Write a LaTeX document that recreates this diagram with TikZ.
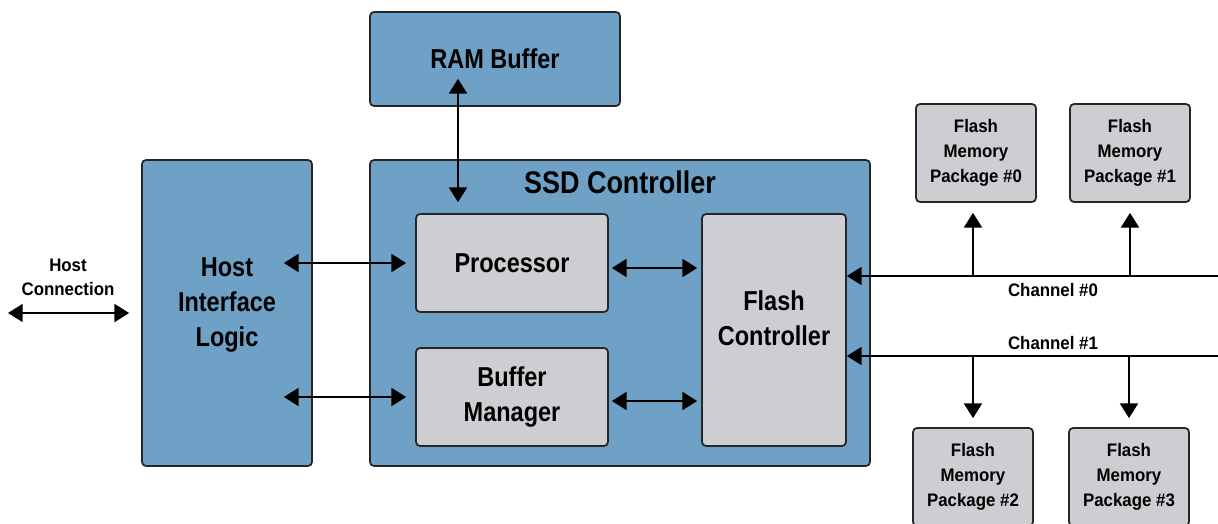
\documentclass[tikz,border=0pt]{standalone}
\usepackage{fontspec}
\setmainfont{Liberation Sans}
\newfontfamily\narrowfont{Liberation Sans}[FakeStretch=0.86]
\newfontfamily\smallfont{Liberation Sans}[FakeStretch=0.93]
\usetikzlibrary{arrows.meta}
\definecolor{ssdblue}{RGB}{110,161,197}
\definecolor{chipgray}{RGB}{205,206,209}
\tikzstyle{blueblock} = [rectangle, rounded corners=3pt, draw=black!85, line width=1.3pt, fill=ssdblue, text centered, align=center, font=\narrowfont\fontsize{20.5}{26}\selectfont\bfseries]
\tikzstyle{grayblock} = [blueblock, fill=chipgray]
\tikzstyle{flashchip} = [grayblock, minimum width=90pt, minimum height=73.5pt, font=\smallfont\fontsize{13.6}{18.75}\selectfont\bfseries]
\tikzstyle{bigtext} = [align=center, font=\narrowfont\fontsize{20.5}{26}\selectfont\bfseries]
\tikzstyle{smalltext} = [align=center, font=\smallfont\fontsize{13.6}{18}\selectfont\bfseries]
\tikzstyle{arrow} = [line width=1.2pt, -{Triangle[length=11pt,width=13.5pt]}]
\tikzstyle{dblarrow} = [line width=1.2pt, {Triangle[length=11pt,width=13.5pt]}-{Triangle[length=11pt,width=13.5pt]}]

\begin{document}
\begin{tikzpicture}[x=0.75pt, y=-0.75pt]
    \useasboundingbox (0,0) rectangle (1218,524);
    \node (RAMBuffer) [blueblock, minimum width=187.5pt, minimum height=70.5pt] at (495,59) {RAM Buffer};
    \node (HostLogic) [blueblock, minimum width=127.5pt, minimum height=229.5pt] at (227,313) {};
    \node (HostLogicText) [bigtext] at ([yshift=6pt]HostLogic.center) {Host\\Interface\\Logic};
    \node (SSDController) [blueblock, minimum width=375pt, minimum height=229.5pt] at (620,313) {};
    \node (SSDTitle) [font=\narrowfont\fontsize{23.5}{28}\selectfont\bfseries] at ([yshift=-17.25pt]SSDController.north) {SSD Controller};
    \node (Processor) [grayblock, minimum width=144pt, minimum height=73.5pt] at (512,263) {Processor};
    \node (BufferManager) [grayblock, minimum width=144pt, minimum height=73.5pt] at (512,397) {Buffer\\Manager};
    \node (FlashController) [grayblock, minimum width=108pt, minimum height=174pt] at (774,330) {};
    \node (FlashControllerText) [bigtext] at ([yshift=9pt]FlashController.center) {Flash\\Controller};
    \node (FlashPkg0) [flashchip] at (976,153) {Flash\\Memory\\Package \#0};
    \node (FlashPkg1) [flashchip] at (1130,153) {Flash\\Memory\\Package \#1};
    \node (FlashPkg2) [flashchip] at (973,477) {Flash\\Memory\\Package \#2};
    \node (FlashPkg3) [flashchip] at (1129,477) {Flash\\Memory\\Package \#3};
    \coordinate (HostEnd) at (8,313);
    \coordinate (Channel0) at (1218,276);
    \coordinate (Channel1) at (1218,356);
    \node (HostConnLabel) [smalltext] at (68,277) {Host\\Connection};
    \node (Channel0Label) [smalltext] at (1053,290) {Channel \#0};
    \node (Channel1Label) [smalltext] at (1053,343) {Channel \#1};
    \draw [dblarrow, shorten >=9pt] (HostEnd) -- (HostLogic.west |- HostEnd);
    \draw [dblarrow, shorten <=-21.75pt, shorten >=6.75pt] (HostLogic.east |- Processor.west) -- (Processor.west);
    \draw [dblarrow, shorten <=-21.75pt, shorten >=6.75pt] (HostLogic.east |- BufferManager.west) -- (BufferManager.west);
    \draw [dblarrow, shorten <=2.25pt, shorten >=3pt] ([yshift=-3.75pt]Processor.east) -- ([yshift=-3.75pt]FlashController.west |- Processor.east);
    \draw [dblarrow, shorten <=2.25pt, shorten >=3pt] ([yshift=-3pt]BufferManager.east) -- ([yshift=-3pt]FlashController.west |- BufferManager.east);
    \draw [dblarrow, shorten <=-21pt, shorten >=8.25pt] ([xshift=-40.5pt]Processor.north |- RAMBuffer.south) -- ([xshift=-40.5pt]Processor.north);
    \draw [arrow] (Channel0) -- (Channel0 -| FlashController.east);
    \draw [arrow] (Channel1) -- (Channel1 -| FlashController.east);
    \draw [arrow, shorten >=7.5pt] ([xshift=-2.25pt]FlashPkg0.south |- Channel0) -- ([xshift=-2.25pt]FlashPkg0.south);
    \draw [arrow, shorten >=7.5pt] (FlashPkg1.south |- Channel0) -- (FlashPkg1.south);
    \draw [arrow, shorten >=6.75pt] (FlashPkg2.north |- Channel1) -- (FlashPkg2.north);
    \draw [arrow, shorten >=6.75pt] (FlashPkg3.north |- Channel1) -- (FlashPkg3.north);
\end{tikzpicture}
\end{document}
